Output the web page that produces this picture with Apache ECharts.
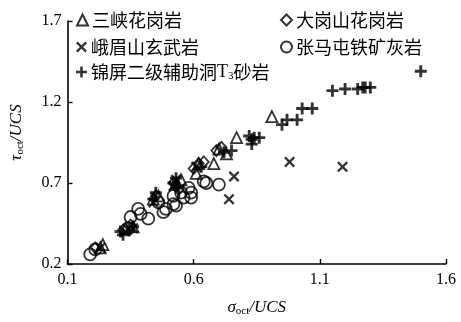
<!DOCTYPE html>
<html>
<head>
<meta charset="utf-8">
<script src="https://cdn.jsdelivr.net/npm/echarts@6/dist/echarts.min.js"></script>
<style>html,body{margin:0;padding:0;background:#fff}#c{width:461px;height:322px}</style>
</head>
<body>
<div id="c"></div>
<script>
// Series names
const seriesNames = ['三峡花岗岩', '大岗山花岗岩', '峨眉山玄武岩', '张马屯铁矿灰岩', '锦屏二级辅助洞T3砂岩'];
// Axis ticks
const xTicks = [0.1, 0.6, 1.1, 1.6];
const yTicks = [0.2, 0.7, 1.2, 1.7];
// Data: [sigma_oct/UCS, tau_oct/UCS]
const sanxia = [[0.24,0.32],[0.23,0.30],[0.33,0.42],[0.36,0.43],[0.44,0.60],[0.46,0.62],[0.53,0.70],[0.55,0.72],[0.61,0.76],[0.62,0.82],[0.68,0.82],[0.70,0.91],[0.73,0.88],[0.77,0.98],[0.91,1.11]];
const dagangshan = [[0.21,0.30],[0.32,0.41],[0.35,0.44],[0.45,0.62],[0.52,0.70],[0.54,0.66],[0.60,0.79],[0.62,0.82],[0.64,0.83],[0.69,0.90],[0.71,0.92]];
const emeishan = [[0.23,0.30],[0.33,0.40],[0.36,0.42],[0.44,0.58],[0.52,0.68],[0.53,0.72],[0.61,0.80],[0.74,0.60],[0.76,0.74],[0.98,0.83],[1.19,0.80]];
const zhangmatun = [[0.19,0.26],[0.21,0.29],[0.34,0.42],[0.35,0.49],[0.38,0.54],[0.39,0.51],[0.42,0.48],[0.46,0.58],[0.48,0.52],[0.49,0.54],[0.52,0.57],[0.53,0.56],[0.55,0.64],[0.56,0.61],[0.58,0.67],[0.59,0.64],[0.59,0.61],[0.64,0.71],[0.65,0.70],[0.70,0.69],[0.52,0.62]];
const jinping = [[0.31,0.40],[0.32,0.38],[0.36,0.43],[0.45,0.64],[0.44,0.60],[0.52,0.70],[0.53,0.73],[0.54,0.68],[0.63,0.80],[0.72,0.89],[0.75,0.90],[0.82,0.99],[0.83,0.97],[0.84,0.98],[0.86,0.98],[0.83,0.94],[0.95,1.06],[0.97,1.09],[1.01,1.09],[1.03,1.16],[1.07,1.16],[1.15,1.27],[1.20,1.28],[1.25,1.28],[1.27,1.29],[1.28,1.29],[1.30,1.29],[1.50,1.39]];

const plusPath = 'path://M4.2,0H6.8V4.2H11V6.8H6.8V11H4.2V6.8H0V4.2H4.2Z';
const crossPath = 'path://M0,1.5L1.5,0L5,3.5L8.5,0L10,1.5L6.5,5L10,8.5L8.5,10L5,6.5L1.5,10L0,8.5L3.5,5Z';

const hollow = {color: 'rgba(255,255,255,0)', borderColor: '#000', borderWidth: 1.8};
const solid = {color: '#000', borderWidth: 0};

const chart = echarts.init(document.getElementById('c'), null, {renderer: 'canvas'});
const serif = '"Liberation Serif", "Times New Roman", serif';
const cjk = '"Noto Sans CJK SC", sans-serif';

function legendAt(name, left, centerY) {
  return {
    data: [name], left: left, top: centerY - 10, padding: 0,
    itemWidth: 11, itemHeight: 11, itemGap: 0,
    textStyle: {
      fontFamily: cjk, fontSize: 18, color: '#000', lineHeight: 20, padding: [0,0,0,-1],
      rich: {sub: {fontFamily: serif, fontSize: 11, verticalAlign: 'bottom', padding: [8,0,0,0], color:'#000'},
             t: {fontFamily: serif, fontSize: 18, color:'#000'}}
    },
    formatter: function (n) { return n.indexOf('T3') >= 0 ? n.replace('T3', '{t|T}{sub|3}') : n; }
  };
}

const option = {
  animation: false,
  backgroundColor: '#fff',
  grid: {left: 66, right: 15, top: 21, bottom: 51, containLabel: false},
  legend: [
    legendAt(seriesNames[0], 76, 20),
    legendAt(seriesNames[1], 280, 20),
    legendAt(seriesNames[2], 76, 47),
    legendAt(seriesNames[3], 280, 47),
    legendAt(seriesNames[4], 76, 72)
  ],
  xAxis: {
    type: 'value', min: xTicks[0], max: xTicks[xTicks.length-1], interval: 0.5,
    axisLine: {show: true, onZero: false, lineStyle: {color: '#000', width: 1.6}},
    axisTick: {show: true, inside: true, length: 5, lineStyle: {color: '#000', width: 1.4}},
    axisLabel: {fontFamily: serif, fontSize: 16, color: '#000', margin: 8, formatter: v => v.toFixed(1)},
    splitLine: {show: false},
    name: '{i|σ}{s|oct}{n|/}{i|UCS}', nameLocation: 'middle', nameGap: 35,
    nameTextStyle: {rich: {
      i: {fontFamily: serif, fontStyle: 'italic', fontSize: 17, color: '#000'},
      n: {fontFamily: serif, fontStyle: 'italic', fontSize: 17, color: '#000'},
      s: {fontFamily: serif, fontSize: 11, color: '#000', verticalAlign: 'bottom', padding: [7,0,0,0]}
    }}
  },
  yAxis: {
    type: 'value', min: yTicks[0], max: yTicks[yTicks.length-1], interval: 0.5,
    axisLine: {show: true, onZero: false, lineStyle: {color: '#000', width: 1.6}},
    axisTick: {show: true, inside: true, length: 5, lineStyle: {color: '#000', width: 1.4}},
    axisLabel: {fontFamily: serif, fontSize: 16, color: '#000', margin: 6, formatter: v => v.toFixed(1)},
    splitLine: {show: false},
    name: '{i|τ}{s|oct}{n|/}{i|UCS}', nameLocation: 'middle', nameGap: 42,
    nameTextStyle: {padding: [0, 0, 0, 20], rich: {
      i: {fontFamily: serif, fontStyle: 'italic', fontSize: 17, color: '#000'},
      n: {fontFamily: serif, fontStyle: 'italic', fontSize: 17, color: '#000'},
      s: {fontFamily: serif, fontSize: 11, color: '#000', verticalAlign: 'bottom', padding: [7,0,0,0]}
    }}
  },
  series: [
    {name: seriesNames[0], type: 'scatter', data: sanxia, symbol: 'triangle', symbolSize: 11, itemStyle: hollow},
    {name: seriesNames[1], type: 'scatter', data: dagangshan, symbol: 'diamond', symbolSize: [10, 11], itemStyle: hollow},
    {name: seriesNames[2], type: 'scatter', data: emeishan, symbol: crossPath, symbolSize: 11, itemStyle: solid},
    {name: seriesNames[3], type: 'scatter', data: zhangmatun, symbol: 'circle', symbolSize: 12, itemStyle: hollow},
    {name: seriesNames[4], type: 'scatter', data: jinping, symbol: plusPath, symbolSize: 12, itemStyle: solid}
  ]
};
chart.setOption(option);
</script>
</body>
</html>
